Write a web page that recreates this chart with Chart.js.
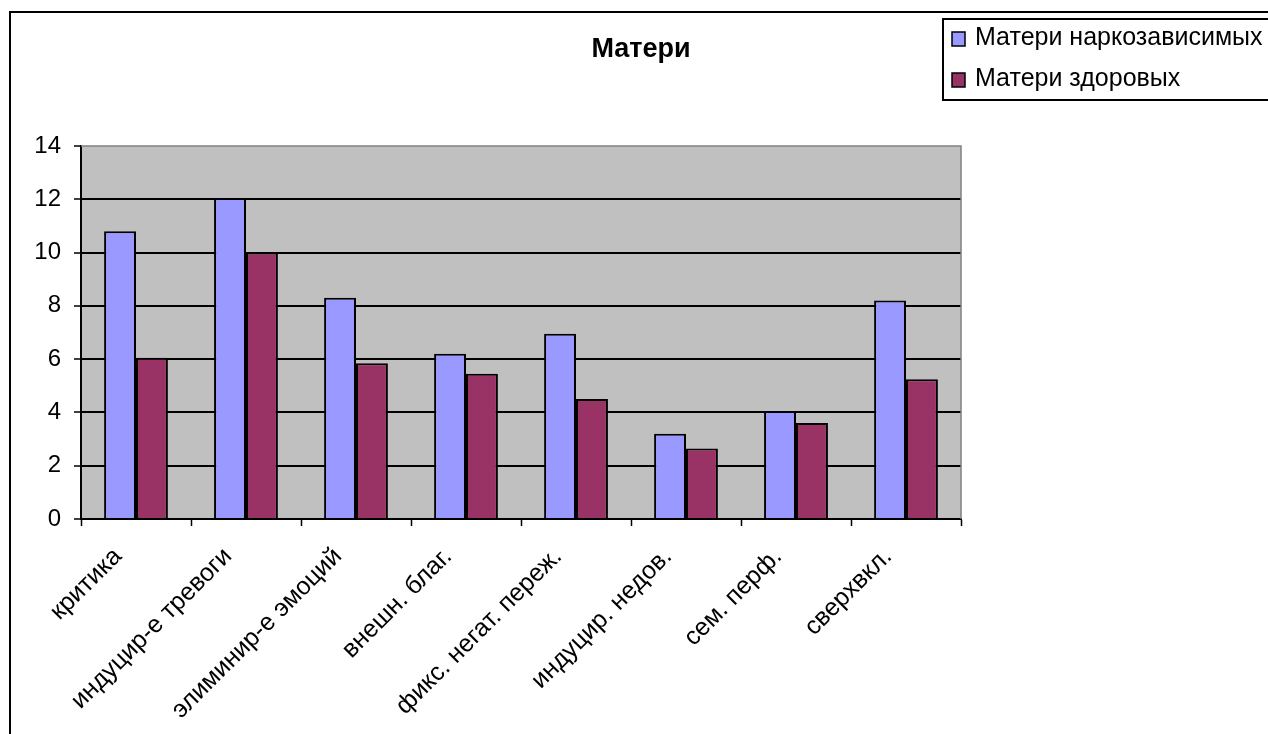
<!DOCTYPE html>
<html>
<head>
<meta charset="utf-8">
<script src="https://cdn.jsdelivr.net/npm/chart.js@4"></script>
<style>
  html, body { margin: 0; padding: 0; background: #fff; }
  #wrap { position: relative; width: 1268px; height: 734px; overflow: hidden; }
  #frame { position: absolute; left: 9px; top: 11px; width: 1400px; height: 900px;
           border-left: 2px solid #000; border-top: 2px solid #000; pointer-events: none; }
  canvas { position: absolute; left: 0; top: 0; }
</style>
</head>
<body>
<div id="wrap">
  <canvas id="c" width="1268" height="734"></canvas>
  <div id="frame"></div>
</div>
<script>
const categories = [
  'критика',
  'индуцир-е тревоги',
  'элиминир-е эмоций',
  'внешн. благ.',
  'фикс. негат. переж.',
  'индуцир. недов.',
  'сем. перф.',
  'сверхвкл.'
];
const addictedMothers = [10.8, 12.05, 8.3, 6.2, 6.95, 3.2, 4.05, 8.2];
const healthyMothers  = [6.05, 10.0, 5.85, 5.45, 4.5, 2.65, 3.6, 5.25];
const yTicks = [0, 2, 4, 6, 8, 10, 12, 14];
const seriesNames = ['Матери наркозависимых', 'Матери здоровых'];
const chartTitle = 'Матери';

const FONT = '"Liberation Sans", Arial, sans-serif';

// Grey plot background, plot-area frame, title and boxed legend
const decor = {
  id: 'decor',
  beforeDraw(chart) {
    const { ctx, chartArea: a } = chart;
    ctx.save();
    ctx.fillStyle = '#C0C0C0';
    ctx.fillRect(a.left, a.top, a.right - a.left, a.bottom - a.top);
    ctx.restore();
  },
  afterDatasetsDraw(chart) {
    const { ctx, chartArea: a } = chart;
    ctx.save();
    ctx.strokeStyle = '#808080';
    ctx.lineWidth = 1.5;
    ctx.beginPath();
    ctx.moveTo(a.left, a.top);
    ctx.lineTo(a.right, a.top);
    ctx.lineTo(a.right, a.bottom);
    ctx.stroke();
    ctx.restore();
  },
  afterDraw(chart) {
    const { ctx } = chart;
    ctx.save();
    ctx.fillStyle = '#000';
    ctx.font = 'bold 27px ' + FONT;
    ctx.textAlign = 'center';
    ctx.textBaseline = 'alphabetic';
    ctx.fillText(chartTitle, 641, 57);

    // legend box
    ctx.strokeStyle = '#000';
    ctx.lineWidth = 2;
    ctx.strokeRect(943, 19, 340, 81);
    ctx.font = '25px ' + FONT;
    ctx.textAlign = 'left';
    chart.data.datasets.forEach((ds, i) => {
      const base = 45 + i * 41;
      ctx.fillStyle = ds.backgroundColor;
      ctx.fillRect(952, base - 13, 13, 14);
      ctx.strokeStyle = '#000';
      ctx.lineWidth = 1.5;
      ctx.strokeRect(952, base - 13, 13, 14);
      ctx.fillStyle = '#000';
      ctx.fillText(ds.label, 975, base);
    });
    ctx.restore();
  }
};

new Chart(document.getElementById('c'), {
  type: 'bar',
  data: {
    labels: categories,
    datasets: [
      { label: seriesNames[0], data: addictedMothers, backgroundColor: '#9999FF',
        borderColor: '#000', borderWidth: 2 },
      { label: seriesNames[1], data: healthyMothers, backgroundColor: '#993366',
        borderColor: '#000', borderWidth: 2 }
    ]
  },
  options: {
    responsive: false,
    animation: false,
    devicePixelRatio: 1,
    layout: { padding: { top: 146, right: 307, left: 0, bottom: 0 } },
    datasets: { bar: { barPercentage: 1.0, categoryPercentage: 0.58 } },
    plugins: { legend: { display: false }, title: { display: false }, tooltip: { enabled: false } },
    scales: {
      x: {
        afterFit(s) { s.height = 215; },
        grid: { display: true, drawOnChartArea: false, drawTicks: true, tickLength: 7,
                tickColor: '#000', tickWidth: 1.5, offset: true },
        border: { display: true, color: '#000', width: 2 },
        ticks: { color: '#000', font: { family: FONT, size: 25 }, minRotation: 45, maxRotation: 45,
                 autoSkip: false, padding: 16, labelOffset: -18 }
      },
      y: {
        min: 0, max: 14,
        afterFit(s) { s.width = 81; },
        afterBuildTicks(s) { s.ticks = yTicks.map(v => ({ value: v })); },
        grid: {
          color: ctx => (ctx.tick && ctx.tick.value > 0 && ctx.tick.value < 14) ? '#000' : 'rgba(0,0,0,0)',
          lineWidth: 2, drawTicks: true, tickLength: 7, tickColor: '#000', tickWidth: 1.5
        },
        border: { display: true, color: '#000', width: 2 },
        ticks: { color: '#000', font: { family: FONT, size: 24 }, padding: 13 }
      }
    }
  },
  plugins: [decor]
});
</script>
</body>
</html>
